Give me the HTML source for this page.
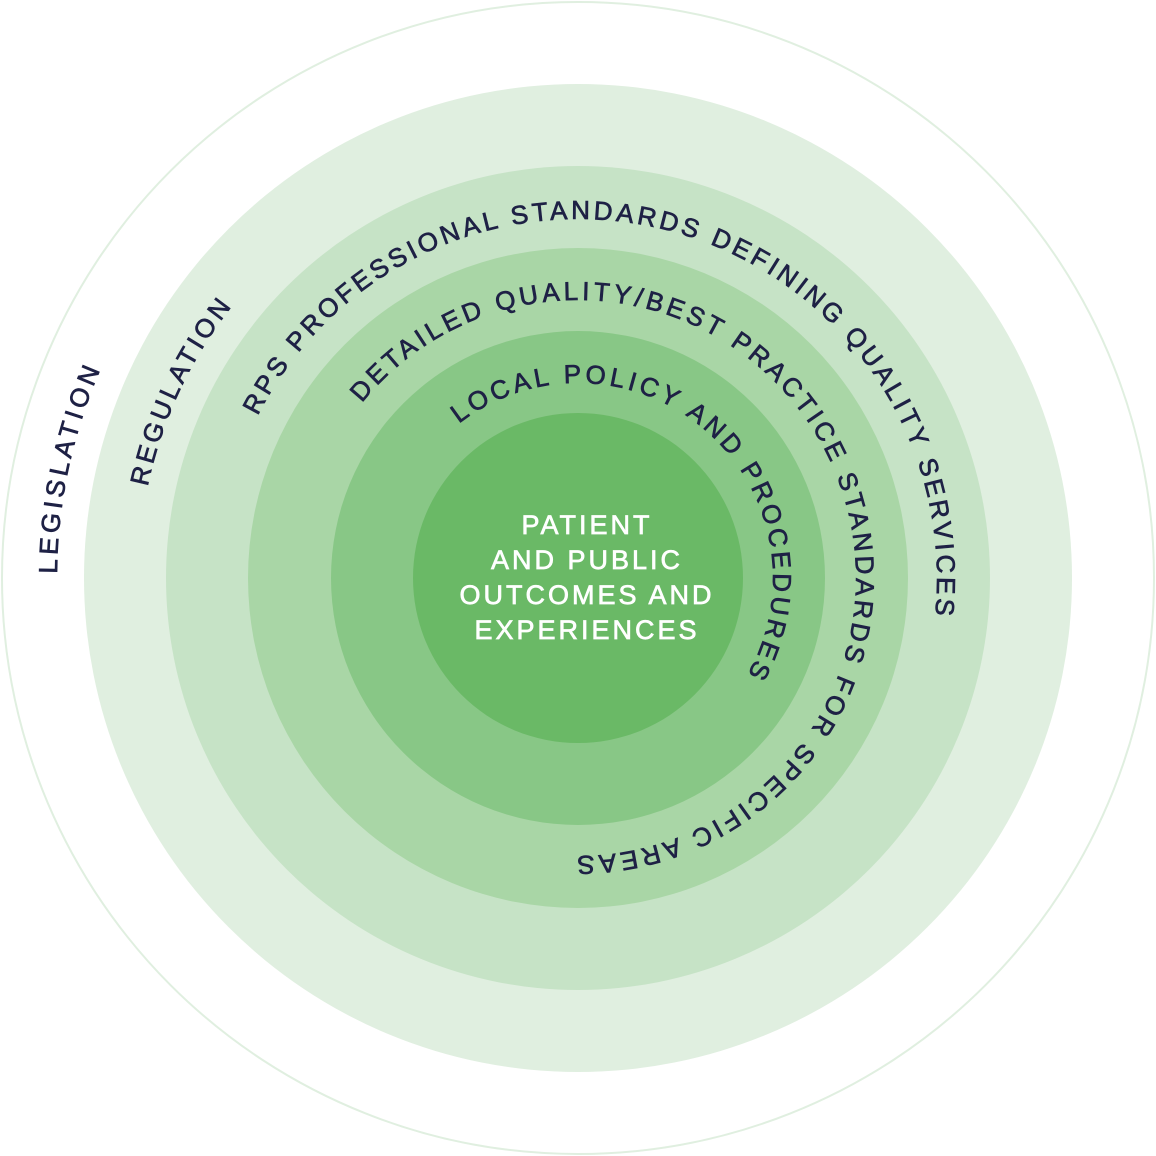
<!DOCTYPE html>
<html><head><meta charset="utf-8"><style>
html,body{margin:0;padding:0;background:#fff;}
svg{display:block}
text{font-family:"Liberation Sans",sans-serif;}
</style></head><body>
<svg width="1156" height="1156" viewBox="0 0 1156 1156" xmlns="http://www.w3.org/2000/svg">
<defs>
<path id="p530" d="M48,578 A530,530 0 1 1 1108,578 A530,530 0 1 1 48,578 A530,530 0 1 1 1108,578"/>
<path id="p449" d="M129,578 A449,449 0 1 1 1027,578 A449,449 0 1 1 129,578 A449,449 0 1 1 1027,578"/>
<path id="p368" d="M210,578 A368,368 0 1 1 946,578 A368,368 0 1 1 210,578 A368,368 0 1 1 946,578"/>
<path id="p287" d="M291,578 A287,287 0 1 1 865,578 A287,287 0 1 1 291,578 A287,287 0 1 1 865,578"/>
<path id="p204" d="M374,578 A204,204 0 1 1 782,578 A204,204 0 1 1 374,578 A204,204 0 1 1 782,578"/>
</defs>
<circle cx="578" cy="578" r="576" fill="#fff" stroke="#e0efe0" stroke-width="2"/>
<circle cx="578" cy="578" r="494" fill="#e0efe0"/>
<circle cx="578" cy="578" r="412" fill="#c6e3c6"/>
<circle cx="578" cy="578" r="330" fill="#a9d6a6"/>
<circle cx="578" cy="578" r="247" fill="#88c786"/>
<circle cx="578" cy="578" r="165" fill="#6ab966"/>
<g fill="#1e2145" stroke="#1e2145" stroke-width="0.7" font-size="26" dominant-baseline="central">
<text><textPath href="#p530" startOffset="111" text-anchor="middle" textLength="213" lengthAdjust="spacing">LEGISLATION</textPath></text>
<text><textPath href="#p449" startOffset="196" text-anchor="middle" textLength="204" lengthAdjust="spacing">REGULATION</textPath></text>
<text><textPath href="#p368" startOffset="683" text-anchor="middle" textLength="1021" lengthAdjust="spacing">RPS PROFESSIONAL STANDARDS DEFINING QUALITY SERVICES</textPath></text>
<text><textPath href="#p287" startOffset="774" text-anchor="middle" textLength="1157" lengthAdjust="spacing">DETAILED QUALITY/BEST PRACTICE STANDARDS FOR SPECIFIC AREAS</textPath></text>
<text><textPath href="#p204" startOffset="466" text-anchor="middle" textLength="559" lengthAdjust="spacing">LOCAL POLICY AND PROCEDURES</textPath></text>
</g>
<g fill="#fff" stroke="#fff" stroke-width="0.7" font-size="27" text-anchor="middle" dominant-baseline="central" letter-spacing="3">
<text x="587" y="525">PATIENT</text>
<text x="587" y="560">AND PUBLIC</text>
<text x="587" y="595">OUTCOMES AND</text>
<text x="587" y="630">EXPERIENCES</text>
</g>
</svg>
</body></html>
